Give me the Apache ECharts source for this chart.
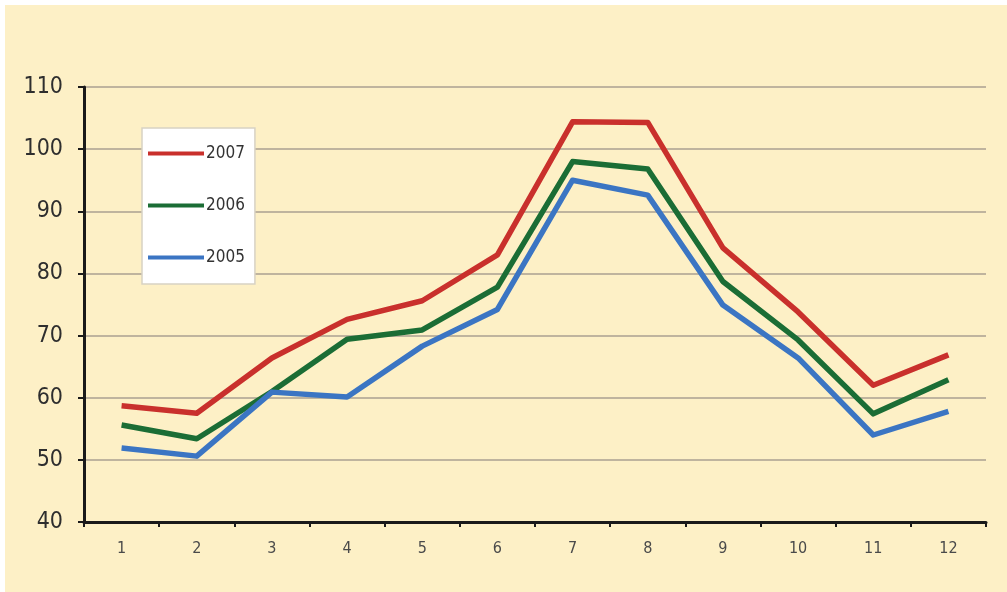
<!DOCTYPE html>
<html>
<head>
<meta charset="utf-8">
<script src="https://cdn.jsdelivr.net/npm/echarts@6/dist/echarts.min.js"></script>
<style>
  html, body { margin: 0; padding: 0; background: #ffffff; }
  #chart { position: absolute; left: 5px; top: 5px; width: 1002px; height: 587px; }
</style>
</head>
<body>
<div id="chart"></div>
<script>
// Monthly index values per year
const months = ['1', '2', '3', '4', '5', '6', '7', '8', '9', '10', '11', '12'];
const y2007 = [58.7, 57.5, 66.4, 72.6, 75.6, 83.0, 104.4, 104.3, 84.1, 73.8, 62.0, 66.9];
const y2006 = [55.6, 53.4, 61.0, 69.4, 70.9, 77.8, 98.0, 96.8, 78.7, 69.3, 57.4, 62.9];
const y2005 = [51.9, 50.6, 60.9, 60.1, 68.3, 74.2, 95.0, 92.6, 74.9, 66.4, 54.0, 57.8];
const yTicks = { min: 40, max: 110, step: 10 };

const chart = echarts.init(document.getElementById('chart'));

function lineSeries(name, data, color) {
  return {
    name: name,
    type: 'line',
    data: data,
    symbol: 'none',
    lineStyle: { color: color, width: 5.5, join: 'round' },
    itemStyle: { color: color }
  };
}

chart.setOption({
  backgroundColor: '#fdf0c6',
  animation: false,
  grid: { left: 79, right: 21, top: 82, bottom: 70 },
  legend: {
    orient: 'vertical',
    left: 137,
    top: 123,
    padding: [17, 10, 18, 6],
    itemGap: 35,
    itemWidth: 56,
    itemHeight: 4,
    icon: 'rect',
    backgroundColor: '#ffffff',
    borderColor: '#d8d2c4',
    borderWidth: 1.5,
    textStyle: { fontFamily: 'DejaVu Sans Condensed', fontSize: 17, color: '#333333', padding: [0, 0, 0, -3] },
    data: ['2007', '2006', '2005']
  },
  xAxis: {
    type: 'category',
    data: months,
    boundaryGap: true,
    axisLine: { lineStyle: { color: '#1a1a1a', width: 3 } },
    axisTick: { show: true, alignWithLabel: false, length: 5, lineStyle: { color: '#1a1a1a', width: 2 } },
    axisLabel: { margin: 19, fontFamily: 'DejaVu Sans Condensed', fontSize: 16, color: '#4a4a4a' },
    splitLine: { show: false }
  },
  yAxis: {
    type: 'value',
    min: yTicks.min,
    max: yTicks.max,
    interval: yTicks.step,
    axisLine: { show: true, lineStyle: { color: '#1a1a1a', width: 3 } },
    axisTick: { show: true, length: 6, lineStyle: { color: '#1a1a1a', width: 2 } },
    axisLabel: { margin: 21, fontFamily: 'DejaVu Sans Condensed', fontSize: 23, color: '#2e2e2e' },
    splitLine: { show: true, lineStyle: { color: '#bfb49e', width: 2 } }
  },
  series: [
    lineSeries('2007', y2007, '#c9302c'),
    lineSeries('2006', y2006, '#1b6d35'),
    lineSeries('2005', y2005, '#3b75c3')
  ]
});
</script>
</body>
</html>
